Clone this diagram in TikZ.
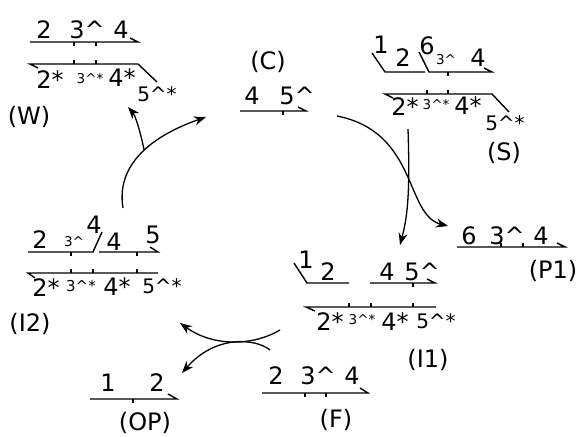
\documentclass[tikz,border=0pt]{standalone}
\usepackage{fontspec}
\setmainfont{DejaVu Sans}
\usetikzlibrary{arrows.meta}
\newcommand{\hc}{\textasciicircum}

\begin{document}
\begin{tikzpicture}[x=1pt,y=-1pt,
  every node/.style={inner sep=0pt,font=\fontsize{24}{25}\selectfont},
  midsz/.style={font=\fontsize{20}{21}\selectfont},
  tiny/.style={font=\fontsize{13.5}{14}\selectfont},
  strand/.style={line width=1.4pt},
  every path/.style={line width=1.3pt},
  >={Stealth[length=12pt,width=9pt]}
]
\useasboundingbox (0,0) rectangle (580,436);
% (W)
\node (wa) at (44,30) {2};
\node (wb) at (87,30) {3\hc};
\node (wc) at (121,30) {4};
\node (wd) at (50,80) {2*};
\node[tiny] (we) at (90,79) {3\hc*};
\node (wf) at (122,78) {4*};
\node[midsz] (wg) at (157,94) {5\hc*};
\node (wlab) at (29,117) {(W)};
\draw[strand] (30,42) -- (138,42) -- (130,38);
\draw[strand] (74,42) -- (74,46) (96,42) -- (96,46);
\draw[strand] (38,68) -- (30,64) -- (138,64) -- (157,82);
\draw[strand] (74,64) -- (74,60) (96,64) -- (96,60);
% (C)
\node (clab) at (268,62) {(C)};
\node (ca) at (252,96) {4};
\node (cb) at (297,96) {5\hc};
\draw[strand] (240,111) -- (306,111) -- (298,107);
\draw[strand] (283,111) -- (283,115);
% (S)
\node (sa) at (381,45) {1};
\node (sb) at (403,58) {2};
\node (sc) at (427,46) {6};
\node[tiny] (sd) at (446,60) {3\hc};
\node (se) at (478,58) {4};
\node (sf) at (405,107) {2*};
\node[tiny] (sg) at (436,105) {3\hc*};
\node (sh) at (468,106) {4*};
\node[midsz] (si) at (505,123) {5\hc*};
\node (slab) at (504,153) {(S)};
\draw[strand] (372,53) -- (385,72) -- (425,72);
\draw[strand] (419,52) -- (429,72) -- (492,72) -- (484,68);
\draw[strand] (448,72) -- (448,76);
\draw[strand] (393,98) -- (385,94) -- (492,94) -- (509,112);
\draw[strand] (427,94) -- (427,90) (448,94) -- (448,90);
% (P1)
\node (pa) at (469,236) {6};
\node (pb) at (507,236) {3\hc};
\node (pc) at (541,236) {4};
\node (plab) at (553,271) {(P1)};
\draw[strand] (457,247) -- (565,247) -- (557,243);
\draw[strand] (501,247) -- (501,243) (523,247) -- (523,243);
% (I2)
\node (ja) at (40,240) {2};
\node[tiny] (jb) at (74,242) {3\hc};
\node (jc) at (94,225) {4};
\node (jd) at (114,242) {4};
\node (je) at (153,235) {5};
\node (jf) at (46,288) {2*};
\node[font=\fontsize{15}{16}\selectfont] (jg) at (81,286) {3\hc*};
\node (jh) at (117,287) {4*};
\node[midsz] (ji) at (162,286) {5\hc*};
\node (jlab) at (30,324) {(I2)};
\draw[strand] (28,252) -- (93,252) -- (102,232);
\draw[strand] (99,252) -- (158,252) -- (150,247);
\draw[strand] (71,252) -- (71,256) (137,252) -- (137,256);
\draw[strand] (35,278) -- (28,273) -- (158,273);
\draw[strand] (71,273) -- (71,269) (93,273) -- (93,269) (137,273) -- (137,269);
% (I1)
\node (ia) at (306,260) {1};
\node (ib) at (328,272) {2};
\node (ic) at (387,272) {4};
\node (id) at (422,272) {5\hc};
\node (ie) at (330,322) {2*};
\node[tiny] (if) at (362,320) {3\hc*};
\node (ig) at (395,322) {4*};
\node[midsz] (ih) at (436,321) {5\hc*};
\node (ilab) at (428,360) {(I1)};
\draw[strand] (294,263) -- (307,283) -- (349,283);
\draw[strand] (370,283) -- (435,283) -- (427,279);
\draw[strand] (413,283) -- (413,287);
\draw[strand] (315,311) -- (306,307) -- (436,307);
\draw[strand] (349,307) -- (349,303) (371,307) -- (371,303) (413,307) -- (413,303);
% (F)
\node (fa) at (276,376) {2};
\node (fb) at (318,376) {3\hc};
\node (fc) at (352,376) {4};
\node (flab) at (336,420) {(F)};
\draw[strand] (262,393) -- (368,393) -- (360,388);
\draw[strand] (305,393) -- (305,397) (326,393) -- (326,397);
% (OP)
\node (oa) at (108,383) {1};
\node (ob) at (157,383) {2};
\node (olab) at (145,423) {(OP)};
\draw[strand] (90,399) -- (177,399) -- (168,394);
\draw[strand] (133,399) -- (133,403);
% reaction arrows
\coordinate (cOut) at (337,116);
\coordinate (pIn) at (448,226);
\coordinate (sOut) at (408,129);
\coordinate (iIn) at (400,245);
\coordinate (jOut) at (123,208);
\coordinate (cIn) at (206,117);
\coordinate (wIn) at (128,107);
\coordinate (fOut) at (280,330);
\coordinate (fOut2) at (270,350);
\coordinate (jIn) at (180,323);
\coordinate (oIn) at (182,373);
\draw[->] (cOut) .. controls (418,132) and (405,215) .. (pIn);
\draw[->] (sOut) .. controls (410,190) and (408,215) .. (iIn);
\draw[->] (jOut) .. controls (115,160) and (160,133) .. coordinate[pos=0.5] (fork) (cIn);
\draw[->] (fork) .. controls (140,130) and (135,115) .. (wIn);
\draw[->] (fOut) .. controls (255,345) and (215,348) .. (jIn);
\draw[->] (fOut2) .. controls (255,338) and (215,335) .. (oIn);
\end{tikzpicture}
\end{document}
